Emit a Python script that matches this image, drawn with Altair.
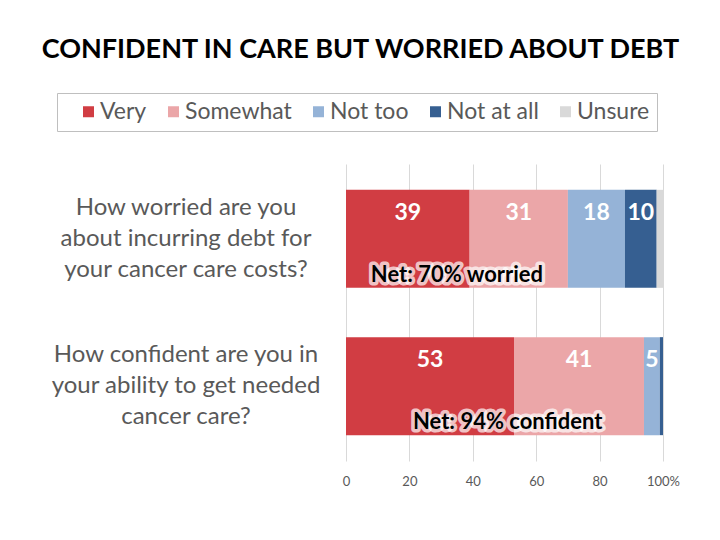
import altair as alt
import pandas as pd

questions = [
    "How worried are you\nabout incurring debt for\nyour cancer care costs?",
    "How confident are you in\nyour ability to get needed\ncancer care?",
]
categories = ["Very", "Somewhat", "Not too", "Not at all", "Unsure"]
colors = ["#D13D43", "#EBA6A8", "#95B3D7", "#365F91", "#D9D9D9"]
worried = [39, 31, 18, 10, 2]
confident = [53, 41, 5, 1, 0]
net_labels = ["Net: 70% worried", "Net: 94% confident"]
net_pos = [35, 51]
x_ticks = [0, 20, 40, 60, 80, 100]

rows = []
for q, vals in zip(questions, [worried, confident]):
    for i, (c, v) in enumerate(zip(categories, vals)):
        rows.append({"question": q, "category": c, "value": v, "order": i,
                     "label": str(v) if v >= 5 else ""})
df = pd.DataFrame(rows)
net_df = pd.DataFrame({"question": questions, "net": net_labels, "pos": net_pos})
q_df = pd.DataFrame({"question": questions})

FONT = "Lato"
yscale = alt.Scale(domain=questions, paddingInner=0.336, paddingOuter=0.176)
xscale = alt.Scale(domain=[0, 100], nice=False)
y_enc = alt.Y("question:N", scale=yscale, axis=None)

base = alt.Chart(df).transform_stack(
    stack="value", groupby=["question"], as_=["x0", "x1"],
    sort=[alt.SortField("order", order="ascending")]
).transform_calculate(mid="(datum.x0 + datum.x1) / 2")

bars = base.mark_bar(size=98).encode(
    x=alt.X("x0:Q", scale=xscale, title=None,
            axis=alt.Axis(values=x_ticks, grid=True, gridColor="#D9D9D9", domain=False,
                          ticks=False, labelFont=FONT, labelFontSize=13, labelColor="#595959",
                          labelPadding=14, labelFlush=False,
                          labelExpr="datum.value == 100 ? '100%' : datum.label")),
    x2="x1:Q",
    y=y_enc,
    color=alt.Color("category:N", scale=alt.Scale(domain=categories, range=colors),
                    legend=alt.Legend(title=None, orient="none", direction="horizontal",
                                      legendX=-289, legendY=-71, columns=5,
                                      symbolType="square", symbolSize=121,
                                      symbolStrokeWidth=0, symbolOpacity=1,
                                      labelFont=FONT, labelFontSize=23, labelColor="#595959",
                                      columnPadding=2, labelOffset=0,
                                      strokeColor="#BFBFBF", padding=7,
                                      symbolOffset=13)),
)

vals = base.mark_text(font=FONT, fontSize=23, fontWeight="bold", color="white", dy=-26).encode(
    x=alt.X("mid:Q", scale=xscale),
    y=y_enc,
    text="label:N",
)

net_glow = alt.Chart(net_df).mark_text(
    font=FONT, fontSize=22, fontWeight="bold", color="white", stroke="white",
    strokeWidth=7, strokeOpacity=0.7, strokeJoin="round", dy=36
).encode(x=alt.X("pos:Q", scale=xscale), y=y_enc, text="net:N")

net_text = alt.Chart(net_df).mark_text(
    font=FONT, fontSize=22, fontWeight="bold", color="black", dy=36
).encode(x=alt.X("pos:Q", scale=xscale), y=y_enc, text="net:N")

qlabels = alt.Chart(q_df).mark_text(
    font=FONT, fontSize=24, color="#595959", align="center", baseline="middle",
    lineBreak="\n", lineHeight=31, dy=-31
).encode(x=alt.value(-160), y=y_enc, text="question:N")

chart = alt.layer(bars, vals, net_glow, net_text, qlabels).properties(
    width=317, height=297,
    padding={"left": 338, "top": 156, "right": 30, "bottom": 50},
    autosize=alt.AutoSizeParams(type="none"),
    title=alt.TitleParams("CONFIDENT IN CARE BUT WORRIED ABOUT DEBT", font=FONT,
                          fontSize=27, fontWeight="bold", color="black",
                          anchor="middle", dx=-144, offset=29),
).configure_view(stroke=None).configure_axis(gridOpacity=1)

chart.save("out.html", embed_options={"renderer": "svg", "actions": False})
